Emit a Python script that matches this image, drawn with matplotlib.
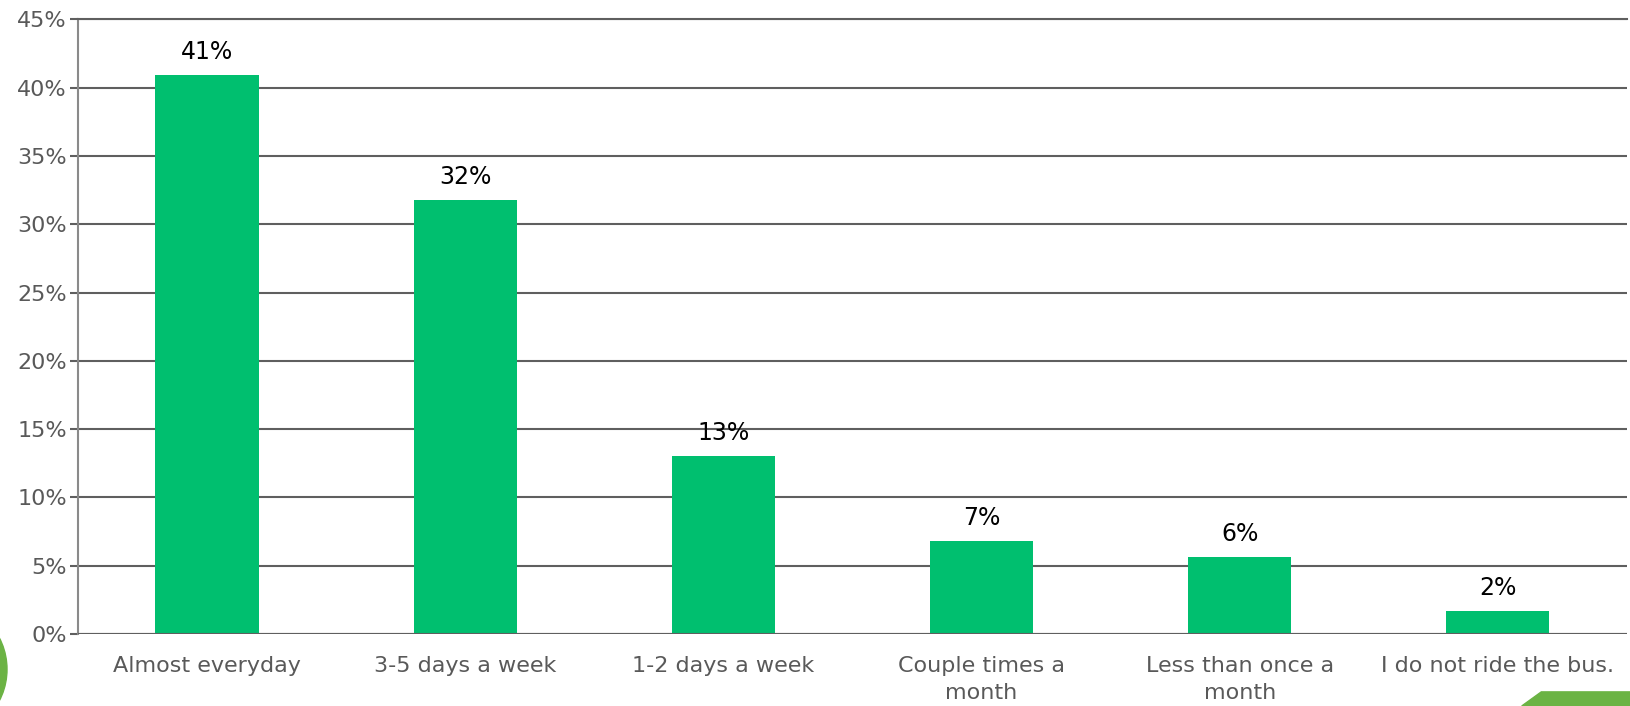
import matplotlib
matplotlib.use("Agg")
import matplotlib.pyplot as plt
from matplotlib.patches import Ellipse, Polygon
from matplotlib.ticker import MultipleLocator, FuncFormatter

categories = ["Almost everyday", "3-5 days a week", "1-2 days a week",
              "Couple times a\nmonth", "Less than once a\nmonth", "I do not ride the bus."]
shares = [40.9, 31.8, 13.05, 6.8, 5.64, 1.66]

bar_color = "#00BF6F"
grid_color = "#5f5f5f"
tick_color = "#595959"

plt.rcParams["font.family"] = ["DejaVu Sans"]

fig = plt.figure(figsize=(16.31, 7.06), dpi=100)
ax = fig.add_axes([0.0478, 0.102, 0.9497, 0.8704])

x = range(len(categories))
bars = ax.bar(x, shares, width=0.4, color=bar_color, zorder=3)

for xi, v in zip(x, shares):
    ax.annotate(f"{v:.0f}%", (xi, v), xytext=(0, 8), textcoords="offset points",
                ha="center", va="bottom", fontsize=17, color="black")

ax.set_xlim(-0.5, len(categories) - 0.5)
ax.set_ylim(0, 45)
ax.yaxis.set_major_locator(MultipleLocator(5))
ax.yaxis.set_major_formatter(FuncFormatter(lambda v, p: f"{v:.0f}%"))
ax.grid(axis="y", color=grid_color, linewidth=1.5, zorder=0)
ax.set_xticks(list(x))
ax.set_xticklabels(categories, fontsize=16, color=tick_color, linespacing=1.4)
ax.tick_params(axis="x", length=0, pad=16)
ax.tick_params(axis="y", length=6, width=1.5, color=grid_color, labelsize=16,
               labelcolor=tick_color, pad=2)

for side in ("top", "right", "bottom"):
    ax.spines[side].set_visible(False)
ax.spines["left"].set_color("#8a8a8a")
ax.spines["left"].set_linewidth(1.5)
ax.axhline(0, color=grid_color, linewidth=1.5, zorder=4)
ax.axhline(45, color=grid_color, linewidth=1.5, zorder=4, clip_on=False)

# slide decorations at the edges
fig.patches.append(Ellipse((-0.0374, 0.052), 0.0834, 0.193, transform=fig.transFigure,
                           color="#6BB344", zorder=0))
fig.patches.append(Polygon([(0.933, 0.0), (0.945, 0.02), (1.0, 0.02), (1.0, 0.0)],
                           closed=True, transform=fig.transFigure,
                           color="#6BB344", zorder=0))

fig.savefig("out.png", dpi=100)
